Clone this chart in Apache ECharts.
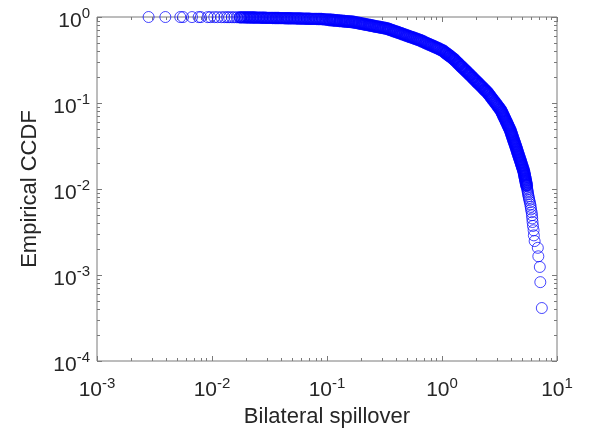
<!DOCTYPE html>
<html>
<head>
<meta charset="utf-8">
<script src="https://cdn.jsdelivr.net/npm/echarts@6/dist/echarts.min.js"></script>
<style>
  html, body { margin: 0; padding: 0; background: #fff; }
  #chart { width: 598px; height: 433px; }
</style>
</head>
<body>
<div id="chart"></div>
<script>
// points, [spillover, ccdf], left to right
const flatStart = [
  [0.00281, 0.9996], [0.00393, 0.9992], [0.0053, 0.9988], [0.0056, 0.9983], [0.0067, 0.9979],
  [0.00765, 0.9975], [0.0080, 0.9971], [0.00916, 0.9967], [0.00966, 0.9963], [0.01047, 0.9959],
  [0.01119, 0.9955], [0.01205, 0.9950], [0.0128, 0.9946], [0.0135, 0.9942], [0.0141, 0.9938],
  [0.0149, 0.9934], [0.01563, 0.993], [0.01648, 0.992], [0.01727, 0.991]
];
const flatDense = [
  [0.0176, 0.990], [0.0181, 0.990], [0.0187, 0.989], [0.0192, 0.989], [0.0198, 0.988],
  [0.0204, 0.988], [0.0210, 0.987], [0.0216, 0.987], [0.0223, 0.986], [0.0229, 0.985],
  [0.0236, 0.985], [0.0243, 0.984], [0.0251, 0.983], [0.0258, 0.983], [0.0266, 0.982],
  [0.0274, 0.981], [0.0282, 0.980], [0.0291, 0.979], [0.0299, 0.978], [0.0308, 0.977],
  [0.0318, 0.977], [0.0327, 0.976], [0.0337, 0.975], [0.0347, 0.974], [0.0358, 0.973],
  [0.0368, 0.972], [0.0379, 0.972], [0.0391, 0.971], [0.0402, 0.970], [0.0414, 0.970],
  [0.0427, 0.969], [0.0440, 0.968], [0.0453, 0.967], [0.0466, 0.966], [0.0480, 0.966],
  [0.0495, 0.965], [0.0510, 0.964], [0.0525, 0.963], [0.0541, 0.962], [0.0557, 0.961],
  [0.0574, 0.960], [0.0591, 0.959], [0.0608, 0.958], [0.0627, 0.957], [0.0645, 0.956],
  [0.0665, 0.955], [0.0685, 0.954], [0.0705, 0.953], [0.0726, 0.952], [0.0748, 0.951],
  [0.0771, 0.950], [0.0794, 0.950], [0.0817, 0.949], [0.0842, 0.948], [0.0867, 0.947],
  [0.0893, 0.946], [0.0920, 0.943], [0.0948, 0.939], [0.0976, 0.936], [0.1005, 0.933]
];
const shoulder = [
  [0.104, 0.928], [0.107, 0.925], [0.111, 0.921], [0.115, 0.917], [0.119, 0.913],
  [0.123, 0.910], [0.128, 0.905], [0.132, 0.902], [0.137, 0.898], [0.142, 0.894],
  [0.147, 0.890], [0.152, 0.887], [0.157, 0.883], [0.163, 0.879], [0.168, 0.876],
  [0.174, 0.869], [0.180, 0.861], [0.187, 0.853], [0.193, 0.846], [0.200, 0.838],
  [0.207, 0.830], [0.214, 0.823], [0.222, 0.815], [0.230, 0.808], [0.238, 0.801],
  [0.246, 0.794], [0.255, 0.786], [0.264, 0.779], [0.273, 0.772], [0.282, 0.766],
  [0.292, 0.759], [0.303, 0.752], [0.313, 0.745], [0.324, 0.739], [0.336, 0.731],
  [0.347, 0.721], [0.359, 0.709], [0.372, 0.697], [0.385, 0.685], [0.398, 0.675],
  [0.412, 0.664], [0.427, 0.653], [0.442, 0.642], [0.457, 0.632], [0.473, 0.622],
  [0.490, 0.611], [0.507, 0.601], [0.525, 0.592], [0.543, 0.582], [0.562, 0.573],
  [0.582, 0.563], [0.602, 0.554], [0.623, 0.545], [0.645, 0.536], [0.668, 0.525],
  [0.691, 0.515], [0.715, 0.504], [0.740, 0.494], [0.766, 0.484], [0.793, 0.474],
  [0.821, 0.464], [0.850, 0.454], [0.879, 0.445], [0.910, 0.436], [0.942, 0.427],
  [0.975, 0.418], [1.01, 0.409]
];
const bend = [
  [1.04, 0.397], [1.07, 0.385], [1.09, 0.378], [1.12, 0.368], [1.15, 0.358],
  [1.17, 0.352], [1.20, 0.343], [1.23, 0.334], [1.26, 0.326], [1.29, 0.316],
  [1.32, 0.306], [1.36, 0.295], [1.39, 0.286], [1.42, 0.278], [1.46, 0.268],
  [1.49, 0.261], [1.53, 0.253], [1.57, 0.244], [1.61, 0.236], [1.65, 0.229],
  [1.69, 0.222], [1.73, 0.215], [1.77, 0.209], [1.82, 0.201], [1.86, 0.195],
  [1.91, 0.188], [1.96, 0.182], [2.01, 0.176], [2.06, 0.170], [2.11, 0.165],
  [2.16, 0.160], [2.21, 0.155], [2.27, 0.150], [2.33, 0.144], [2.38, 0.140],
  [2.44, 0.136], [2.50, 0.131]
];
const drop = [
  [2.553, 0.1263], [2.615, 0.1213], [2.673, 0.1165], [2.732, 0.1119], [2.799, 0.1075],
  [2.861, 0.1033], [2.931, 0.0992], [2.996, 0.0953], [3.063, 0.0915], [3.137, 0.0879],
  [3.207, 0.0845], [3.272, 0.0811], [3.318, 0.0780], [3.365, 0.0749], [3.412, 0.0719],
  [3.459, 0.0691], [3.511, 0.0664], [3.560, 0.0638], [3.611, 0.0613], [3.662, 0.0589],
  [3.714, 0.0565], [3.766, 0.0543], [3.818, 0.0522], [3.872, 0.0501], [3.927, 0.0482],
  [3.967, 0.0462], [4.006, 0.0444], [4.047, 0.0427], [4.087, 0.0410], [4.128, 0.0394],
  [4.169, 0.0378], [4.210, 0.0363], [4.260, 0.0349], [4.303, 0.0335], [4.346, 0.0322],
  [4.389, 0.0310], [4.436, 0.0297], [4.479, 0.0286], [4.515, 0.0274], [4.560, 0.0264],
  [4.606, 0.0253], [4.652, 0.0243], [4.698, 0.0234], [4.745, 0.0224], [4.797, 0.0216],
  [4.844, 0.0207], [4.883, 0.0199], [4.932, 0.0191], [4.982, 0.0184], [5.031, 0.0176],
  [5.082, 0.0169], [5.133, 0.0163], [5.164, 0.0156], [5.196, 0.0150], [5.227, 0.0144],
  [5.258, 0.0139], [5.289, 0.0133], [5.321, 0.0128], [5.353, 0.0123], [5.385, 0.0118],
  [5.417, 0.0113], [5.449, 0.0109]
];
const lastPoints = [
  [5.49, 0.0103], [5.52, 0.00992], [5.55, 0.00950], [5.58, 0.00909], [5.61, 0.00868],
  [5.65, 0.00826], [5.70, 0.00785], [5.74, 0.00744], [5.81, 0.00702], [5.86, 0.00661],
  [5.91, 0.00620], [5.94, 0.00579], [6.02, 0.00537], [6.06, 0.00496], [6.09, 0.00455],
  [6.13, 0.00413], [6.18, 0.00372], [6.26, 0.00331], [6.29, 0.00289], [6.39, 0.00248],
  [6.81, 0.00207], [6.88, 0.00165], [7.09, 0.00124], [7.16, 0.000826], [7.38, 0.000413]
];

const xTicks = [0.001, 0.01, 0.1, 1, 10];
const yTicks = [0.0001, 0.001, 0.01, 0.1, 1];

const font = '"Liberation Sans", Arial, Helvetica, sans-serif';
const lineColor = '#7a7a7a';
const textColor = '#262626';
const blue = '#0000ff';

// 2..9 inside each decade between the major ticks
function minorTicks(majors) {
  let out = [];
  for (let i = 0; i < majors.length - 1; i++) {
    for (let m = 2; m <= 9; m++) out.push(+(m * majors[i]).toPrecision(3));
  }
  return out;
}

function expLabel(v) {
  let e = Math.round(Math.log10(v));
  return '{b|10}{s|' + e + '}';
}

const rich = {
  b: { fontSize: 21, fontFamily: font, color: textColor, padding: [8, 0, 0, 0] },
  s: { fontSize: 15, fontFamily: font, color: textColor, padding: [0, 0, 6, 0] }
};

function axis(pos, ticks, len, labels, min, max) {
  return {
    type: 'log',
    logBase: 10,
    min: min,
    max: max,
    position: pos,
    axisLine: { show: false },
    splitLine: { show: false },
    axisTick: {
      show: true, inside: true, length: len, customValues: ticks,
      lineStyle: { color: lineColor, width: 1 }
    },
    axisLabel: labels ? {
      show: true, customValues: ticks, formatter: expLabel, rich: rich,
      fontSize: 21, fontFamily: font, color: textColor, margin: 8
    } : { show: false }
  };
}

const xMinor = minorTicks(xTicks);
const yMinor = minorTicks(yTicks);

let xAxes = [
  axis('bottom', xTicks, 5, true, 0.001, 10),
  axis('bottom', xMinor, 3, false, 0.001, 10),
  axis('top', xTicks, 5, false, 0.001, 10),
  axis('top', xMinor, 3, false, 0.001, 10)
];
xAxes[0].axisLabel.margin = 11;
xAxes[0].name = 'Bilateral spillover';
xAxes[0].nameLocation = 'middle';
xAxes[0].nameGap = 45;
xAxes[0].nameTextStyle = { fontSize: 22, fontFamily: font, color: textColor };

let yAxes = [
  axis('left', yTicks, 5, true, 0.0001, 1),
  axis('left', yMinor, 3, false, 0.0001, 1),
  axis('right', yTicks, 5, false, 0.0001, 1),
  axis('right', yMinor, 3, false, 0.0001, 1)
];
yAxes[0].axisLabel.margin = 7;
yAxes[0].name = 'Empirical CCDF';
yAxes[0].nameLocation = 'middle';
yAxes[0].nameGap = 56;
yAxes[0].nameTextStyle = { fontSize: 22, fontFamily: font, color: textColor };

// the sparse ends show single rings; the crowded body overlaps into a solid band
function rings(data, width) {
  return {
    type: 'scatter',
    xAxisIndex: 0,
    yAxisIndex: 0,
    data: data,
    symbol: 'circle',
    symbolSize: 11,
    clip: false,
    silent: true,
    itemStyle: { color: 'rgba(255,255,255,0)', borderColor: blue, borderWidth: width },
    emphasis: { disabled: true }
  };
}

const chart = echarts.init(document.getElementById('chart'), null, { renderer: 'canvas' });
chart.setOption({
  animation: false,
  backgroundColor: '#ffffff',
  grid: {
    left: 97, right: 41, top: 17, bottom: 72,
    show: true, borderColor: lineColor, borderWidth: 1, backgroundColor: 'transparent'
  },
  xAxis: xAxes,
  yAxis: yAxes,
  series: [
    rings(flatStart, 0.9),
    rings(flatDense, 1.4),
    rings(shoulder.concat(bend, drop), 1.9),
    rings(lastPoints, 0.9)
  ]
});
</script>
</body>
</html>
